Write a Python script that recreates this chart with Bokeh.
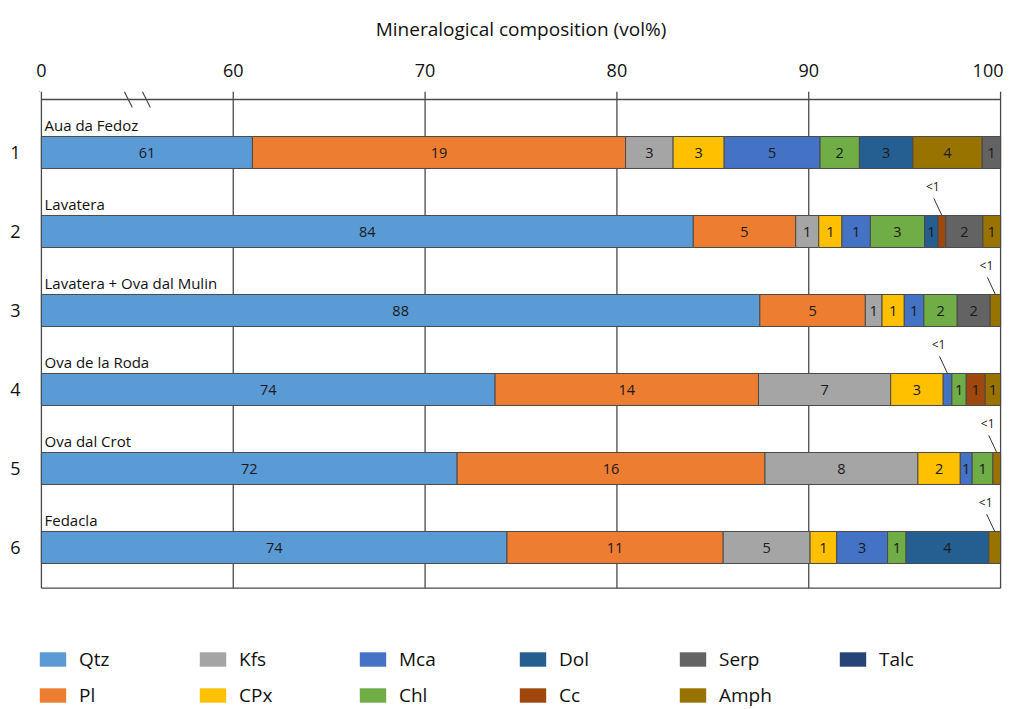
from bokeh.plotting import figure
from bokeh.models import Range1d, FixedTicker, Legend, LegendItem, ColumnDataSource
from bokeh.core.properties import value
from bokeh.embed import file_html
from bokeh.resources import INLINE

FONT = "Open Sans"

# ---------------- data ----------------
samples = ["Aua da Fedoz", "Lavatera", "Lavatera + Ova dal Mulin",
           "Ova de la Roda", "Ova dal Crot", "Fedacla"]
row_ids = ["1", "2", "3", "4", "5", "6"]

minerals = ["Qtz", "Pl", "Kfs", "CPx", "Mca", "Chl", "Dol", "Cc", "Serp", "Talc", "Amph"]
mineral_colors = ["#5B9BD5", "#ED7D31", "#A5A5A5", "#FFC000", "#4472C4", "#70AD47",
                  "#255E91", "#9E480E", "#636363", "#264478", "#997300"]
legend_layout = ["Qtz", "Kfs", "Mca", "Dol", "Serp", "Talc",
                 "Pl", "CPx", "Chl", "Cc", "Amph"]

seq_1 = ["Qtz", "Pl", "Kfs", "CPx", "Mca", "Chl", "Dol", "Amph", "Serp"]
val_1 = [61.0, 19.45, 2.48, 2.66, 5.0, 2.05, 2.79, 3.6, 0.97]
lab_1 = ["61", "19", "3", "3", "5", "2", "3", "4", "1"]

seq_2 = ["Qtz", "Pl", "Kfs", "CPx", "Mca", "Chl", "Dol", "Cc", "Serp", "Amph"]
val_2 = [83.98, 5.34, 1.2, 1.21, 1.48, 2.83, 0.7, 0.4, 1.94, 0.92]
lab_2 = ["84", "5", "1", "1", "1", "3", "1", "<1", "2", "1"]

seq_3 = ["Qtz", "Pl", "Kfs", "CPx", "Mca", "Chl", "Serp", "Amph"]
val_3 = [87.45, 5.5, 0.87, 1.16, 1.02, 1.74, 1.72, 0.54]
lab_3 = ["88", "5", "1", "1", "1", "2", "2", "<1"]

seq_4 = ["Qtz", "Pl", "Kfs", "CPx", "Mca", "Chl", "Cc", "Amph"]
val_4 = [73.65, 13.73, 6.89, 2.74, 0.45, 0.75, 0.99, 0.8]
lab_4 = ["74", "14", "7", "3", "<1", "1", "1", "1"]

seq_5 = ["Qtz", "Pl", "Kfs", "CPx", "Mca", "Chl", "Amph"]
val_5 = [71.67, 16.05, 7.97, 2.21, 0.62, 1.08, 0.4]
lab_5 = ["72", "16", "8", "2", "1", "1", "<1"]

seq_6 = ["Qtz", "Pl", "Kfs", "CPx", "Mca", "Chl", "Dol", "Amph"]
val_6 = [74.27, 11.27, 4.53, 1.39, 2.65, 0.96, 4.32, 0.61]
lab_6 = ["74", "11", "5", "1", "3", "1", "4", "<1"]

tick_values = [0, 60, 70, 80, 90, 100]

rows = [(seq_1, val_1, lab_1), (seq_2, val_2, lab_2), (seq_3, val_3, lab_3),
        (seq_4, val_4, lab_4), (seq_5, val_5, lab_5), (seq_6, val_6, lab_6)]


# broken axis: 0..60 compressed to 50..60, 60..100 unchanged
def tx(v):
    return 50 + v / 6.0 if v <= 60 else v


color_of = dict(zip(minerals, mineral_colors))
BAR_H = 0.405
Y_TOP = 0.228          # frame top
Y_AXIS = 1 - 53 / 79.0  # horizontal axis line
Y_BOT = 6.515           # bottom line of chart box

bars = {m: dict(y=[], left=[], right=[]) for m in minerals}
inside = dict(x=[], y=[], t=[])
call = dict(x=[], y=[], t=[], x0=[], y0=[], x1=[], y1=[])
names = dict(x=[], y=[], t=[])

for i, (seq, vals, labs) in enumerate(rows):
    y = i + 1
    c = 0.0
    for m, v, lab in zip(seq, vals, labs):
        a, b = tx(c), tx(c + v)
        bars[m]["y"].append(y)
        bars[m]["left"].append(a)
        bars[m]["right"].append(b)
        mid = (a + b) / 2
        if lab == "<1":
            call["x"].append(mid - 0.47)
            call["y"].append(y - 0.57)
            call["t"].append(lab)
            call["x0"].append(mid - 0.42)
            call["y0"].append(y - 0.42)
            call["x1"].append(mid)
            call["y1"].append(y - BAR_H / 2)
        else:
            inside["x"].append(mid)
            inside["y"].append(y)
            inside["t"].append(lab)
        c += v
    names["x"].append(tx(0) + 0.16)
    names["y"].append(y - BAR_H / 2 - 0.02)
    names["t"].append(samples[i])

# ---------------- figure ----------------
p = figure(width=1003, height=709, output_backend="svg", toolbar_location=None,
           x_axis_location="above",
           x_range=Range1d(49.9, 100.1), y_range=Range1d(8.051, Y_TOP),
           min_border_left=39, min_border_right=1, min_border_top=91, min_border_bottom=0)
p.outline_line_color = None
p.xgrid.visible = False
p.ygrid.visible = False
p.background_fill_color = "white"

LC = "#4a4a4a"
vx = [tx(t) for t in tick_values]
# vertical grid / frame lines
p.segment(x0=vx, y0=[Y_TOP] * len(vx), x1=vx, y1=[Y_BOT] * len(vx),
          line_color=LC, line_width=1.3)
# horizontal axis line and bottom line
p.segment(x0=[50, 50], y0=[Y_AXIS, Y_BOT], x1=[100, 100], y1=[Y_AXIS, Y_BOT],
          line_color=LC, line_width=1.3)

# axis break slashes
p.segment(x0=[54.32, 55.26], y0=[Y_TOP, Y_TOP], x1=[54.74, 55.68], y1=[0.43, 0.43],
          line_color=LC, line_width=1.2)

# bars
for m in minerals:
    src = ColumnDataSource(bars[m])
    p.hbar(y="y", left="left", right="right", height=BAR_H, source=src,
           fill_color=color_of[m], line_color=LC, line_width=1)

# labels inside bars
p.text(x="x", y="y", text="t", source=ColumnDataSource(inside),
       text_font=value(FONT), text_font_size="14.5px", text_color="#1a1a1a",
       text_align="center", text_baseline="middle", y_offset=1)

# callouts
p.segment(x0="x0", y0="y0", x1="x1", y1="y1", source=ColumnDataSource(call),
          line_color="#333333", line_width=1)
p.text(x="x", y="y", text="t", source=ColumnDataSource(call),
       text_font=value(FONT), text_font_size="12px", text_color="#1a1a1a",
       text_align="center", text_baseline="middle")

# sample names
p.text(x="x", y="y", text="t", source=ColumnDataSource(names),
       text_font=value(FONT), text_font_size="15px", text_color="#111111",
       text_align="left", text_baseline="bottom")

# axes
xa = p.xaxis[0]
xa.ticker = FixedTicker(ticks=vx)
xa.major_label_overrides = {tx(t): str(t) for t in tick_values}
xa.axis_line_color = None
xa.major_tick_line_color = None
xa.minor_tick_line_color = None
xa.major_label_standoff = 9
xa.major_label_text_font = FONT
xa.major_label_text_font_size = "18px"
xa.major_label_text_color = "#111111"
xa.axis_label = "Mineralogical composition (vol%)"
xa.axis_label_text_font = FONT
xa.axis_label_text_font_size = "19px"
xa.axis_label_text_font_style = "normal"
xa.axis_label_text_color = "#111111"
xa.axis_label_standoff = 19

ya = p.yaxis[0]
ya.ticker = FixedTicker(ticks=[1, 2, 3, 4, 5, 6])
ya.major_label_overrides = {i + 1: row_ids[i] for i in range(6)}
ya.axis_line_color = None
ya.major_tick_line_color = None
ya.minor_tick_line_color = None
ya.major_label_standoff = 13
ya.major_label_text_font = FONT
ya.major_label_text_font_size = "18px"
ya.major_label_text_color = "#111111"

# legend proxies: zero-width bars placed outside the visible range
items = []
for m in legend_layout:
    r = p.hbar(y=[-10], left=[0], right=[0], height=BAR_H,
               fill_color=color_of[m], line_color=None)
    items.append(LegendItem(label=m, renderers=[r]))

legend = Legend(items=items, location=(-3, 1), orientation="horizontal", ncols=6,
                glyph_width=33, glyph_height=18, label_standoff=10, label_width=107,
                label_height=18, spacing=10, padding=0, margin=0,
                border_line_color=None, background_fill_alpha=0,
                label_text_font=FONT, label_text_font_size="19px",
                label_text_color="#111111")
p.add_layout(legend, "center")

open("out.html", "w").write(file_html(p, INLINE))
